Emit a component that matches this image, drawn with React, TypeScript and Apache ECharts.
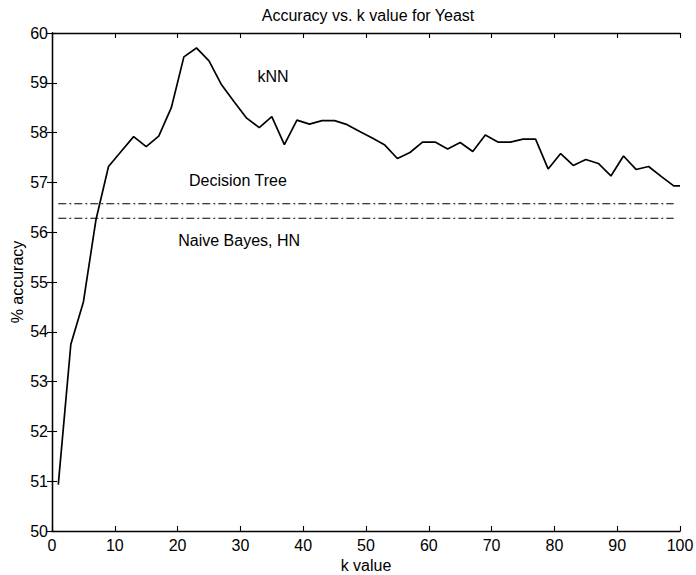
import React, { useEffect, useRef } from "react";
import * as echarts from "echarts";

const kValues = [1, 3, 5, 7, 9, 11, 13, 15, 17, 19, 21, 23, 25, 27, 29, 31, 33, 35, 37, 39, 41, 43, 45, 47, 49, 51, 53, 55, 57, 59, 61, 63, 65, 67, 69, 71, 73, 75, 77, 79, 81, 83, 85, 87, 89, 91, 93, 95, 97, 99, 100];
const knnAccuracy = [50.93, 53.75, 54.6, 56.25, 57.32, 57.62, 57.92, 57.72, 57.93, 58.5, 59.52, 59.7, 59.44, 58.96, 58.62, 58.29, 58.1, 58.32, 57.76, 58.25, 58.17, 58.24, 58.24, 58.16, 58.02, 57.89, 57.75, 57.48, 57.6, 57.81, 57.81, 57.67, 57.8, 57.62, 57.95, 57.81, 57.81, 57.87, 57.87, 57.27, 57.58, 57.34, 57.46, 57.38, 57.13, 57.53, 57.26, 57.32, 57.12, 56.93, 56.93];
const decisionTreeAccuracy = 56.57;
const naiveBayesAccuracy = 56.28;
const baselineRange = [1, 99];
const xTicks = [0, 10, 20, 30, 40, 50, 60, 70, 80, 90, 100];
const yTicks = [50, 51, 52, 53, 54, 55, 56, 57, 58, 59, 60];

const FONT = "'Liberation Sans', Arial, Helvetica, sans-serif";

export default function App() {
  const ref = useRef<HTMLDivElement>(null);
  useEffect(() => {
    const chart = echarts.init(ref.current!, null, { renderer: "svg" });
    const axisCommon = {
      axisLine: { show: true, lineStyle: { color: "#000", width: 1.3 } },
      axisTick: { show: true, inside: true, length: 5, lineStyle: { color: "#000", width: 1.1 } },
      splitLine: { show: false },
    };
    const dashDot = [8, 3, 2, 3];
    chart.setOption({
      animation: false,
      backgroundColor: "#fff",
      textStyle: { fontFamily: FONT },
      grid: { left: 52, right: 16, top: 33, bottom: 44, containLabel: false, outerBoundsMode: "none" },
      graphic: [
        {
          type: "text",
          x: 368,
          y: 15,
          style: {
            text: "Accuracy vs. k value for Yeast",
            font: `16px ${FONT}`,
            fill: "#000",
            textAlign: "center",
            textVerticalAlign: "middle",
          },
        },
      ],
      xAxis: [
        {
          type: "value",
          min: xTicks[0],
          max: xTicks[xTicks.length - 1],
          interval: 10,
          position: "bottom",
          name: "k value",
          nameLocation: "middle",
          nameGap: 25,
          nameTextStyle: { color: "#000", fontSize: 16, fontFamily: FONT },
          axisLabel: { color: "#000", fontSize: 16, margin: 6, fontFamily: FONT },
          ...axisCommon,
        },
        {
          type: "value",
          min: xTicks[0],
          max: xTicks[xTicks.length - 1],
          interval: 10,
          position: "top",
          axisLabel: { show: false },
          ...axisCommon,
        },
      ],
      yAxis: [
        {
          type: "value",
          min: yTicks[0],
          max: yTicks[yTicks.length - 1],
          interval: 1,
          position: "left",
          name: "% accuracy",
          nameLocation: "middle",
          nameGap: 27,
          nameMoveOverlap: false,
          nameTextStyle: { color: "#000", fontSize: 16, fontFamily: FONT },
          axisLabel: { color: "#000", fontSize: 16, margin: 4, fontFamily: FONT },
          ...axisCommon,
        },
        {
          type: "value",
          min: yTicks[0],
          max: yTicks[yTicks.length - 1],
          interval: 1,
          position: "right",
          axisLabel: { show: false },
          ...axisCommon,
        },
      ],
      series: [
        {
          name: "kNN",
          type: "line",
          data: kValues.map((k, i) => [k, knnAccuracy[i]]),
          showSymbol: false,
          symbol: "none",
          lineStyle: { color: "#000", width: 1.7 },
          markPoint: {
            symbol: "circle",
            symbolSize: 0,
            label: { show: true, position: "inside", color: "#000", fontSize: 16, fontFamily: FONT },
            data: [
              { coord: [35.2, 59.12], value: "kNN", label: { formatter: "kNN" } },
              { coord: [29.6, 57.04], value: "Decision Tree", label: { formatter: "Decision Tree" } },
              { coord: [29.8, 55.84], value: "Naive Bayes, HN", label: { formatter: "Naive Bayes, HN" } },
            ],
          },
        },
        {
          name: "Decision Tree",
          type: "line",
          data: baselineRange.map((k) => [k, decisionTreeAccuracy]),
          showSymbol: false,
          symbol: "none",
          lineStyle: { color: "#000", width: 1.1, type: dashDot },
        },
        {
          name: "Naive Bayes, HN",
          type: "line",
          data: baselineRange.map((k) => [k, naiveBayesAccuracy]),
          showSymbol: false,
          symbol: "none",
          lineStyle: { color: "#000", width: 1.1, type: dashDot },
        },
      ],
    });
    return () => chart.dispose();
  }, []);
  return <div ref={ref} style={{ width: 696, height: 575, position: "absolute", left: 0, top: 0 }} />;
}
